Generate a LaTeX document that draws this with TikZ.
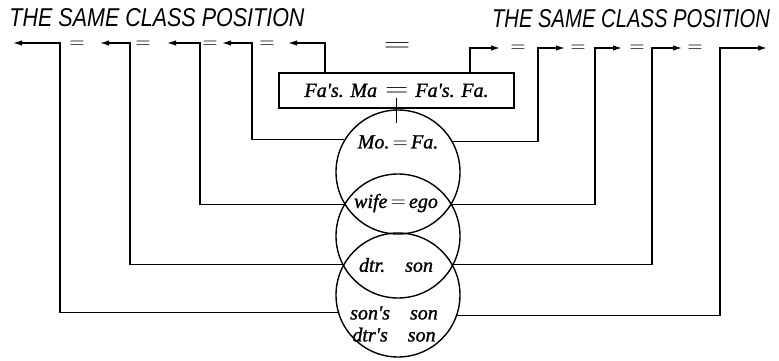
\documentclass[tikz,border=0pt]{standalone}
\usepackage{graphicx}
\usepackage{fontspec}
\newfontfamily\handfont[FakeBold=1.2]{Liberation Serif}
\newfontfamily\capsfont{Liberation Sans}
\usetikzlibrary{arrows.meta}
\begin{document}
\begin{tikzpicture}[x=1pt,y=-1pt,
  ln/.style={line width=1.4pt},
  arr/.style={ln,-{Latex[length=9pt,width=5.5pt]}},
  ring/.style={circle,draw,line width=1.4pt,minimum size=124pt,inner sep=0pt},
  lbl/.style={font=\fontsize{20}{22}\selectfont\handfont\itshape},
  eqs/.style={font=\fontsize{22}{22}\selectfont,inner sep=0pt},
  ttl/.style={inner sep=0pt}]
\useasboundingbox[fill=white] (0,0) rectangle (779,361);

% titles
\node[ttl] (t1) at (157,18) {\resizebox{295pt}{18pt}{\capsfont\itshape THE SAME CLASS POSITION}};
\node[ttl] (t2) at (631,19) {\resizebox{278pt}{18pt}{\capsfont\itshape THE SAME CLASS POSITION}};

% circles
\node[ring] (cA) at (398,172) {};
\node[ring] (cB) at (398,236) {};
\node[ring] (cC) at (398,295) {};

% box
\node[draw,ln,minimum width=235pt,minimum height=35pt,inner sep=0pt,lbl] (box) at (396.5,90.5)
  {Fa's. Ma\hspace{8pt}\scalebox{1.3}[1]{\fontsize{26}{26}\selectfont$=$}\hspace{7pt}Fa's. Fa.};
\draw[ln] ([yshift=-7pt]box.center) -- ([yshift=-32pt]box.center);

% circle labels
\node[lbl] (mofa) at (398,142) {Mo.\,$=$\,Fa.};
\node[lbl] (we) at (396,203) {wife\,$=$\,ego};
\node[lbl] (ds) at (396,265) {dtr.\quad son};
\node[lbl,align=center,inner sep=0pt] (ss) at (394,324) {son's\quad son\\dtr's\quad son};

% corner coordinates
\coordinate (l1) at (60,43);  \coordinate (l1e) at (13,43);
\coordinate (l2) at (130,43); \coordinate (l2e) at (100,43);
\coordinate (l3) at (200,43); \coordinate (l3e) at (167,43);
\coordinate (l4) at (252,43); \coordinate (l4e) at (222,43);
\coordinate (l5) at (325,43); \coordinate (l5e) at (288,43);
\coordinate (r1) at (470,48); \coordinate (r1e) at (500,48);
\coordinate (r2) at (538,48); \coordinate (r2e) at (565,48);
\coordinate (r3) at (595,48); \coordinate (r3e) at (622,48);
\coordinate (r4) at (652,48); \coordinate (r4e) at (682,48);
\coordinate (r5) at (720,48); \coordinate (r5e) at (767,48);

% connectors
\draw[arr] (box.north -| l5) -- (l5) -- (l5e);
\draw[arr] (box.north -| r1) -- (r1) -- (r1e);
\draw[arr] (cA.149) -| (l4) -- (l4e);
\draw[arr] (cA.29) -| (r2) -- (r2e);
\draw[arr] (cB.150) -| (l3) -- (l3e);
\draw[arr] (cB.30) -| (r3) -- (r3e);
\draw[arr] (cC.151) -| (l2) -- (l2e);
\draw[arr] (cC.29) -| (r4) -- (r4e);
\draw[arr] (cC.196) -| (l1) -- (l1e);
\draw[arr] (cC.341) -| (r5) -- (r5e);

% equals signs
\node[eqs] (e1) at (77,45) {$=$};
\node[eqs] (e2) at (143,45) {$=$};
\node[eqs] (e3) at (210,45) {$=$};
\node[eqs] (e4) at (267,45) {$=$};
\node[inner sep=0pt] (ebig) at (397,47) {\scalebox{1.5}[1]{\fontsize{26}{26}\selectfont$=$}};
\node[eqs] (e5) at (518,49) {$=$};
\node[eqs] (e6) at (578,49) {$=$};
\node[eqs] (e7) at (637,49) {$=$};
\node[eqs] (e8) at (695,49) {$=$};
\end{tikzpicture}
\end{document}
